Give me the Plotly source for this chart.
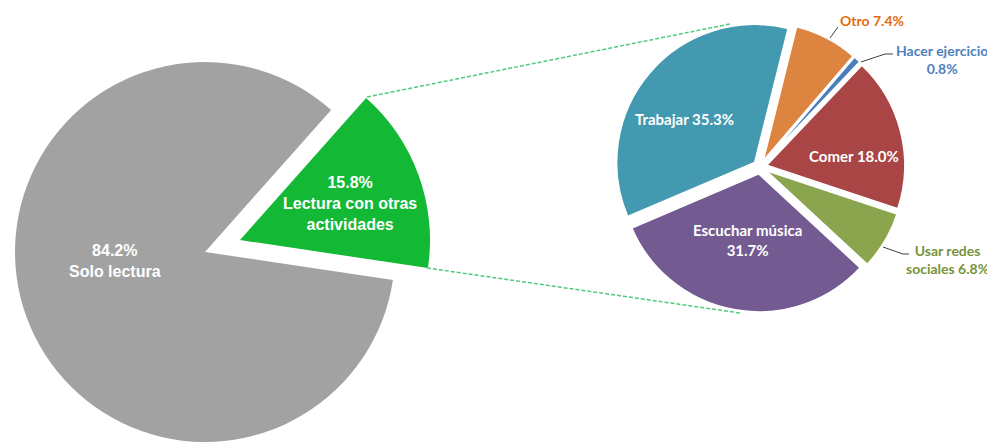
import plotly.graph_objects as go

# ---------------- data ----------------
main_labels = ["Lectura con otras actividades", "Solo lectura"]
main_text = ["Lectura con otras<br>actividades", "Solo lectura"]
main_values = [15.8, 84.2]

sub_labels = ["Otro", "Hacer ejercicio", "Comer", "Usar redes sociales",
              "Escuchar música", "Trabajar"]
sub_text = ["Otro", "Hacer ejercicio<br>", "Comer", "Usar redes<br>sociales",
            "Escuchar música<br>", "Trabajar"]
sub_values = [7.4, 0.8, 18.0, 6.8, 31.7, 35.3]

# ---------------- style ----------------
W, H = 995, 447
OFF = 8  # page offset of the figure inside the window
GREEN = "#13b834"
GRAY = "#a2a2a2"
CLEAR = "rgba(0,0,0,0)"
sub_colors = ["#de8441", "#4a7ebb", "#a94545", "#8aa54e", "#735a91", "#4399af"]
sub_text_colors = ["#e46c0a", "#4f81bd", "#ffffff", "#77933c", "#ffffff", "#ffffff"]


def dom(cx, cy, half):
    cx -= OFF
    cy -= OFF
    return dict(x=[(cx - half) / W, (cx + half) / W],
                y=[1 - (cy + half) / H, 1 - (cy - half) / H])


def px(x, y):
    return (x - OFF) / W, 1 - (y - OFF) / H


fig = go.Figure()

# gray base pie (green slot left empty)
fig.add_trace(go.Pie(
    labels=main_labels, values=main_values, sort=False, direction="clockwise",
    rotation=41.6, domain=dom(205, 252, 190),
    marker=dict(colors=[CLEAR, GRAY], line=dict(width=0)),
    textinfo="none", hoverinfo="label+percent", showlegend=False))

# pulled green slice
fig.add_trace(go.Pie(
    labels=main_labels, values=main_values, sort=False, direction="clockwise",
    rotation=41.6, domain=dom(240, 240, 190),
    marker=dict(colors=[GREEN, CLEAR], line=dict(width=0)),
    textinfo="none", hoverinfo="label+percent", showlegend=False))

# secondary exploded pie
r2, p2 = 138, 7
fig.add_trace(go.Pie(
    labels=sub_labels, values=sub_values, sort=False, direction="clockwise",
    rotation=14, domain=dom(760, 167, r2 + p2), pull=[p2 / r2] * len(sub_values),
    marker=dict(colors=sub_colors, line=dict(color="white", width=1.5)),
    textinfo="none", hoverinfo="label+percent", showlegend=False))

annotations = []
LFONT = "Liberation Sans, Arial, sans-serif"
RFONT = "Lato, Calibri, sans-serif"

# left labels
left_pos = [(350, 204), (115, 261)]
for i in range(2):
    x, y = px(*left_pos[i])
    annotations.append(dict(
        x=x, y=y, xref="paper", yref="paper", showarrow=False,
        xanchor="center", yanchor="middle",
        text=f"{main_values[i]:.1f}%<br>{main_text[i]}",
        font=dict(family=LFONT, size=16, color="white", weight="bold")))


def sub_label(i):
    t = sub_text[i]
    sep = "" if t.endswith("<br>") else " "
    return f"{t}{sep}{sub_values[i]:.1f}%"


label_pos = {2: (854, 156, 15), 4: (747, 240, 15), 5: (684, 119, 15),
             0: (872, 21, 14), 1: (942, 60, 14), 3: (947, 260, 14)}
for i, (x0, y0, fs) in label_pos.items():
    x, y = px(x0, y0)
    annotations.append(dict(
        x=x, y=y, xref="paper", yref="paper", showarrow=False,
        xanchor="center", yanchor="middle", text=sub_label(i), align="center",
        font=dict(family=RFONT, size=fs, color=sub_text_colors[i], weight="bold")))

shapes = []
# connector lines between the two pies
for (x0, y0), (x1, y1) in [((367, 97), (730, 24)), ((427, 268), (740, 313))]:
    a0, b0 = px(x0, y0)
    a1, b1 = px(x1, y1)
    shapes.append(dict(type="line", xref="paper", yref="paper", x0=a0, y0=b0,
                       x1=a1, y1=b1,
                       line=dict(color="#4fcb7c", width=1.5, dash="4px,2px")))

# leader lines for outside labels
leaders = [[(830, 38), (838, 27)],
           [(861, 62), (885, 54), (893, 54)],
           [(883, 247), (903, 254), (909, 254)]]
for pts in leaders:
    path = ""
    for k, (x0, y0) in enumerate(pts):
        a, b = px(x0, y0)
        path += ("M" if k == 0 else " L") + f" {a:.5f} {b:.5f}"
    shapes.append(dict(type="path", xref="paper", yref="paper", path=path,
                       line=dict(color="#404040", width=1)))

fig.update_layout(width=W, height=H, margin=dict(l=0, r=0, t=0, b=0),
                  paper_bgcolor="white", plot_bgcolor="white",
                  annotations=annotations, shapes=shapes, showlegend=False)

fig.write_html("out.html")
